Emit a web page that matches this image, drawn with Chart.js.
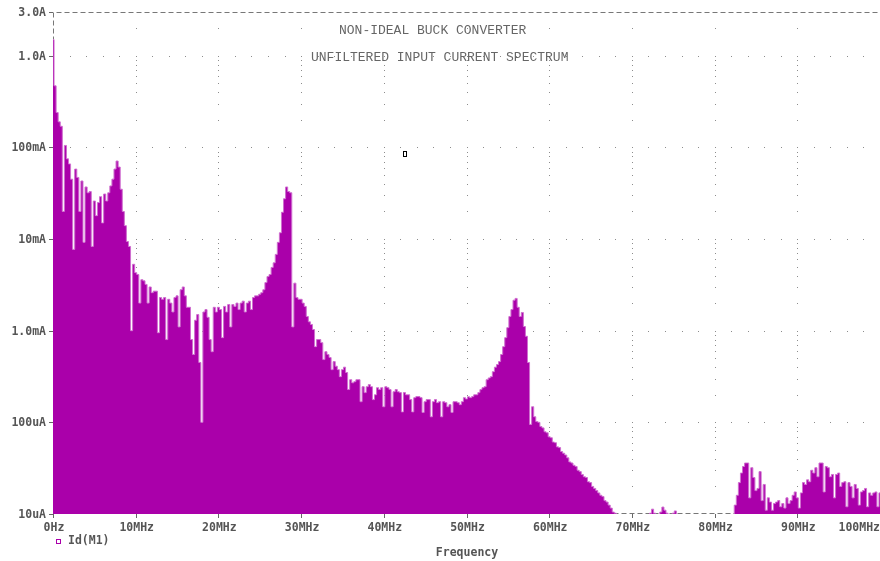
<!DOCTYPE html>
<html>
<head>
<meta charset="utf-8">
<title>Non-ideal buck converter - input current spectrum</title>
<script src="https://cdn.jsdelivr.net/npm/chart.js@4.4.1/dist/chart.umd.min.js"></script>
<style>
    html, body { margin: 0; padding: 0; background: #fff; }
    canvas { display: block; }
</style>
</head>
<body>
<canvas id="spectrum" width="880" height="561"></canvas>
<script>
// FFT bin spacing of the trace (MHz)
const binStepMHz = 0.25;

// Id(M1) magnitude in uA, one array per 10 MHz band
const band00 = [1500000, 470000, 240000, 190000, 170000, 20000, 105000, 75000, 66000, 45000,
    7700, 58000, 47000, 20000, 43000, 9200, 37000, 32000, 33000, 8300,
    26000, 18000, 25000, 29000, 15000, 31000, 26000, 32000, 38000, 45000,
    58000, 71000, 61000, 35000, 20000, 14000, 9400, 8300, 1000, 5300];
const band10 = [4300, 4100, 2000, 3600, 3500, 3200, 2000, 3000, 2600, 2700,
    2700, 950, 2300, 2200, 2300, 800, 2200, 2000, 1600, 2300,
    2400, 1100, 2800, 3000, 2400, 1800, 1800, 800, 550, 1300,
    1500, 450, 100, 1600, 1700, 1400, 800, 590, 1800, 1600];
const band20 = [1800, 1700, 840, 1840, 1600, 1930, 1100, 1930, 1840, 2000,
    1700, 2000, 2100, 1600, 2000, 2100, 1700, 2300, 2400, 2400,
    2500, 2600, 2800, 3350, 3900, 4100, 4900, 5500, 6800, 9200,
    11700, 19600, 27500, 37000, 33000, 32000, 1100, 3300, 2300, 2200];
const band30 = [2200, 2000, 1840, 1430, 1250, 1170, 1030, 670, 800, 800,
    740, 484, 590, 550, 510, 376, 460, 410, 376, 315,
    376, 400, 350, 228, 292, 270, 278, 292, 292, 168,
    245, 211, 245, 258, 245, 177, 200, 239, 228, 239];
const band40 = [148, 245, 239, 228, 148, 216, 228, 216, 211, 130,
    211, 200, 200, 177, 130, 186, 191, 191, 186, 128,
    168, 177, 177, 115, 168, 177, 164, 168, 115, 168,
    164, 148, 156, 128, 168, 168, 164, 156, 168, 186];
const band50 = [180, 190, 186, 191, 200, 200, 211, 228, 239, 245,
    292, 305, 315, 357, 400, 427, 460, 550, 670, 840,
    1080, 1430, 1700, 2150, 2250, 1800, 1430, 1580, 1110, 870,
    450, 95, 148, 115, 102, 100, 90, 87, 79, 77];
const band60 = [69.5, 68, 61, 60, 54, 53, 48, 46, 44, 41,
    37, 36, 34, 33, 30, 29, 27, 25.5, 25, 22.5,
    22, 20, 19, 18, 17, 16, 15.5, 14, 13.5, 12.5,
    11.6, 10.5, 10.2, 5, 5, 5, 5, 5, 5, 5];
const band70 = [5, 5, 5, 5, 5, 5, 5, 5, 5, 10.2,
    11.3, 10.2, 5, 5, 10.5, 11.9, 11, 10.2, 5, 5,
    10.2, 10.8, 5, 5, 5, 5, 5, 5, 5, 5,
    5, 5, 5, 5, 5, 5, 5, 5, 5, 5];
const band80 = [5, 5, 5, 5, 5, 5, 5, 5, 5, 5,
    12.5, 16, 22, 28, 33, 36, 36, 15, 32, 25,
    18, 19, 29, 14, 21, 11, 15, 13.5, 11, 13,
    13.5, 14, 12, 13, 11.6, 15, 13, 14, 16, 17.4];
const band90 = [15, 11.6, 17, 22, 21, 23.6, 22.5, 30, 28, 32,
    25.5, 36, 36, 17.4, 33, 32, 25.5, 27, 15, 27,
    28, 20, 22, 22.5, 12, 22, 20, 15, 21, 19,
    12.5, 17.4, 18, 19, 12, 17, 16, 17, 17.4, 12,
    17];

// axis ticks
const yTickValues = [10, 100, 1000, 10000, 100000, 1000000, 3000000];
const yTickLabels = ['10uA', '100uA', '1.0mA', '10mA', '100mA', '1.0A', '3.0A'];
const xTickValues = [0, 10, 20, 30, 40, 50, 60, 70, 80, 90, 100];
const xTickLabels = ['0Hz', '10MHz', '20MHz', '30MHz', '40MHz', '50MHz', '60MHz', '70MHz', '80MHz', '90MHz', '100MHz'];

// small cursor box left on the plot (MHz, uA)
const cursorMark = { x: 42.5, y: 85000 };

const spectrum = [].concat(band00, band10, band20, band30, band40, band50, band60, band70, band80, band90);
const points = spectrum.map((v, i) => ({ x: i * binStepMHz, y: v }));

const traceColor = '#aa00aa';
const edgeColor = '#cf6fcf';
const inkColor = '#555';

// PSpice style frame: dotted grid, dashed border, ticks and texts
const probeFrame = {
    id: 'probeFrame',
    beforeDatasetsDraw(chart) {
        const { ctx, chartArea: a, scales: { x, y } } = chart;
        ctx.save();
        ctx.fillStyle = '#8c8c8c';
        // dots along each decade, every 2 MHz
        for (const v of yTickValues.slice(1, 6)) {
            const py = Math.round(y.getPixelForValue(v));
            for (let f = 2; f < 100; f += 2) {
                ctx.fillRect(Math.round(x.getPixelForValue(f)), py, 1, 1);
            }
        }
        // dots along each 10 MHz line, at the log minor steps
        for (const f of xTickValues.slice(1, 10)) {
            const px = Math.round(x.getPixelForValue(f));
            for (let e = 1; e <= 6; e++) {
                for (let k = 1; k <= 9; k++) {
                    const v = k * Math.pow(10, e);
                    if (v <= y.min || v >= y.max) continue;
                    ctx.fillRect(px, Math.round(y.getPixelForValue(v)), 1, 1);
                }
            }
        }
        // dashed border
        ctx.strokeStyle = '#777';
        ctx.lineWidth = 1;
        ctx.setLineDash([5, 3]);
        ctx.beginPath();
        ctx.moveTo(a.left + 0.5, a.bottom - 0.5);
        ctx.lineTo(a.left + 0.5, a.top + 0.5);
        ctx.lineTo(a.right, a.top + 0.5);
        ctx.moveTo(a.left + 0.5, a.bottom - 0.5);
        ctx.lineTo(a.right, a.bottom - 0.5);
        ctx.stroke();
        ctx.restore();
    },
    afterDraw(chart) {
        const { ctx, chartArea: a, scales: { x, y }, width } = chart;
        ctx.save();
        ctx.strokeStyle = '#666';
        ctx.lineWidth = 1;
        ctx.beginPath();
        yTickValues.forEach(v => {
            const py = Math.round(y.getPixelForValue(v)) + 0.5;
            ctx.moveTo(a.left - 4, py);
            ctx.lineTo(a.left, py);
        });
        xTickValues.forEach(f => {
            const px = Math.round(x.getPixelForValue(f)) + 0.5;
            ctx.moveTo(px, a.bottom);
            ctx.lineTo(px, a.bottom + 4);
        });
        ctx.stroke();

        ctx.fillStyle = inkColor;
        ctx.font = 'bold 11.5px "DejaVu Sans Mono"';
        ctx.textBaseline = 'middle';
        ctx.textAlign = 'right';
        yTickValues.forEach((v, i) => {
            ctx.fillText(yTickLabels[i], a.left - 7, y.getPixelForValue(v) + 1);
        });
        xTickValues.forEach((f, i) => {
            const px = x.getPixelForValue(f);
            const w = ctx.measureText(xTickLabels[i]).width;
            if (px + w / 2 > width) {
                ctx.textAlign = 'right';
                ctx.fillText(xTickLabels[i], width, a.bottom + 14);
            } else {
                ctx.textAlign = 'center';
                ctx.fillText(xTickLabels[i], px + 1, a.bottom + 14);
            }
        });

        // legend and axis title
        ctx.textAlign = 'left';
        ctx.fillText('Id(M1)', 68, a.bottom + 27);
        ctx.strokeStyle = traceColor;
        ctx.strokeRect(56.5, a.bottom + 25.5, 4, 4);
        ctx.textAlign = 'center';
        ctx.fillText('Frequency', 467, a.bottom + 39.5);

        // plot titles
        ctx.fillStyle = '#666';
        ctx.font = '13px "Liberation Mono"';
        ctx.textAlign = 'left';
        ctx.fillText('NON-IDEAL BUCK CONVERTER', 339, 30.5);
        ctx.fillText('UNFILTERED INPUT CURRENT SPECTRUM', 311, 58);

        // cursor box
        ctx.strokeStyle = '#000';
        ctx.strokeRect(Math.round(x.getPixelForValue(cursorMark.x)) - 0.5,
            Math.round(y.getPixelForValue(cursorMark.y)) - 2.5, 3, 5);
        ctx.restore();
    }
};

new Chart(document.getElementById('spectrum'), {
    type: 'line',
    data: {
        datasets: [{
            label: 'Id(M1)',
            data: points,
            borderColor: edgeColor,
            backgroundColor: traceColor,
            borderWidth: 1,
            stepped: 'middle',
            fill: 'start',
            pointRadius: 0
        }]
    },
    options: {
        responsive: false,
        animation: false,
        layout: { padding: { left: 53, right: 0, top: 12, bottom: 47 } },
        plugins: { legend: { display: false }, tooltip: { enabled: false } },
        scales: {
            x: { type: 'linear', min: 0, max: 100, display: false },
            y: { type: 'logarithmic', min: 10, max: 3000000, display: false }
        }
    },
    plugins: [probeFrame]
});
</script>
</body>
</html>
